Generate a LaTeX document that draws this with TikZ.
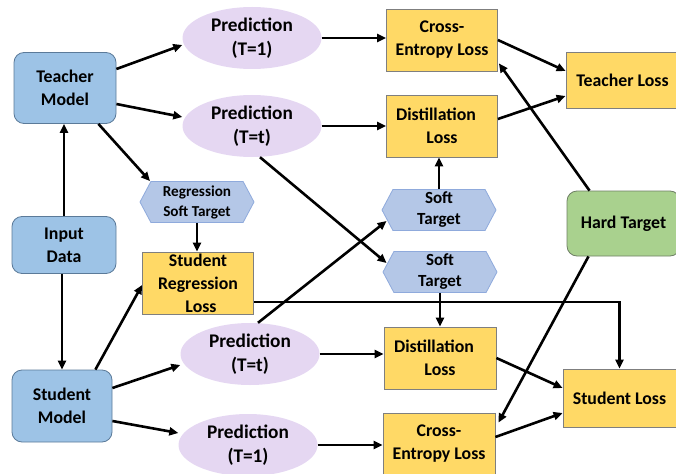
\documentclass[tikz,border=0pt]{standalone}
\usepackage{fontspec}
\setmainfont{Carlito}[BoldFont={Carlito Bold}]
\usetikzlibrary{arrows.meta,shapes.geometric,shapes.symbols}

\definecolor{modelblue}{HTML}{9DC3E6}
\definecolor{modeledge}{HTML}{5B7A99}
\definecolor{hexblue}{HTML}{B4C7E7}
\definecolor{hexedge}{HTML}{8FAADC}
\definecolor{predlav}{HTML}{E5D7F2}
\definecolor{lossyellow}{HTML}{FFD966}
\definecolor{lossedge}{HTML}{7F7F7F}
\definecolor{hardgreen}{HTML}{A9D18E}
\definecolor{hardedge}{HTML}{6E7F64}

\tikzset{
  txt/.style={font=\bfseries\fontsize{17.8}{23}\selectfont, align=center, inner sep=0pt},
  modelbox/.style={txt, draw=modeledge, line width=0.8pt, fill=modelblue,
    rounded corners=10pt, minimum width=#1},
  predell/.style={txt, ellipse, fill=predlav, minimum width=139pt, minimum height=62pt,
    font=\bfseries\fontsize{19.3}{23.5}\selectfont},
  hexnode/.style={txt, shape=signal, signal to=west and east, signal pointer angle=124,
    draw=hexedge, line width=0.8pt, fill=hexblue, minimum width=114pt, minimum height=41pt},
  lossbox/.style={txt, draw=lossedge, line width=0.8pt, fill=lossyellow,
    minimum width=112pt, minimum height=62pt},
  hardbox/.style={txt, draw=hardedge, line width=0.8pt, fill=hardgreen,
    rounded corners=10pt, minimum width=113pt, minimum height=65pt},
  conn/.style={line width=2.6pt, -{Triangle[length=9pt,width=8pt]}},
}

\begin{document}
\begin{tikzpicture}[x=1pt,y=-1pt]
\useasboundingbox (0,0) rectangle (676,473);

% models
\node[modelbox=102pt, minimum height=71pt] (tm) at (65,88) {Teacher\\Model};
\node[modelbox=104pt, minimum height=57pt] (in) at (64,245) {Input\\Data};
\node[modelbox=100pt, minimum height=72pt] (sm) at (62,406) {Student\\Model};

% predictions
\node[predell] (p1)  at (252,38)  {Prediction\\(T=1)};
\node[predell] (pt)  at (252,126) {Prediction\\(T=t)};
\node[predell] (pbt) at (250,354) {Prediction\\(T=t)};
\node[predell] (pb1) at (248,445) {Prediction\\(T=1)};

% soft targets
\node[hexnode, font=\bfseries\fontsize{15.2}{20}\selectfont] (rst) at (197,202) {Regression\\Soft Target};
\node[hexnode, font=\bfseries\fontsize{17}{21}\selectfont] (st1) at (439,210) {Soft\\Target};
\node[hexnode, font=\bfseries\fontsize{17}{21}\selectfont] (st2) at (440,272) {Soft\\Target};

% losses
\node[lossbox, minimum width=111pt] (srl) at (198,283) {Student\\Regression\\\hspace*{6pt}Loss};
\node[lossbox, minimum width=111pt] (ce1) at (442,40)  {Cross-\\Entropy Loss};
\node[lossbox, minimum width=111pt] (dl1) at (442,126) {Distillation\hspace*{12pt}\\Loss};
\node[lossbox] (dl2) at (440,358) {Distillation\hspace*{12pt}\\Loss};
\node[lossbox] (ce2) at (439,444) {Cross-\\Entropy Loss};
\node[lossbox, minimum width=113pt, minimum height=56pt] (tl) at (622.5,80) {Teacher Loss};
\node[lossbox, minimum width=113pt, minimum height=58pt] (sl) at (619.5,398) {Student Loss};
\node[hardbox] (ht) at (623.5,223.5) {Hard Target};

% teacher branch
\draw[conn] ([yshift=19pt]tm.east) -- ([yshift=-7pt]p1.west);
\draw[conn] ([yshift=-16pt]tm.east) -- ([yshift=9pt]pt.west);
\draw[conn] ([xshift=-18pt]tm.south east) -- ([xshift=-47pt]rst.north);
\draw[conn] (in.north) -- (in.north |- tm.south);
\draw[conn] (sm.north |- in.south) -- (sm.north);
\draw[conn] (p1.east) -- (p1.east -| ce1.west);
\draw[conn] (pt.east) -- (pt.east -| dl1.west);
\draw[conn] ([xshift=8pt]pt.south) -- ([xshift=4pt,yshift=9pt]st2.west);
\draw[conn] (st1.north) -- (st1.north |- dl1.south);
\draw[conn] (ce1.east) -- ([yshift=9pt]tl.west);
\draw[conn] ([yshift=7pt]dl1.east) -- ([yshift=-16pt]tl.west);
\draw[conn] ([xshift=-34pt]ht.north) -- ([xshift=1pt,yshift=8pt]ce1.south east);

% student branch
\draw[conn] (rst.south) -- (rst.south |- srl.north);
\draw[conn] ([xshift=-17pt]sm.north east) -- ([yshift=-2pt]srl.west);
\draw[conn] ([yshift=18pt]sm.east) -- ([yshift=-11pt]pbt.west);
\draw[conn] ([yshift=-15pt]sm.east) -- ([yshift=12pt]pb1.west);
\draw[conn] ([xshift=8pt]pbt.north) -- ([xshift=5pt,yshift=-11pt]st1.west);
\draw[conn] ([yshift=-19pt]srl.east) -| (sl.north);
\draw[conn] (st2.south) -- (st2.south |- dl2.north);
\draw[conn] (pbt.east) -- (pbt.east -| dl2.west);
\draw[conn] (pb1.east) -- (pb1.east -| ce2.west);
\draw[conn] ([xshift=-35pt]ht.south) -- ([xshift=3pt,yshift=-10pt]ce2.north east);
\draw[conn] (dl2.east) -- ([yshift=10pt]sl.west);
\draw[conn] ([yshift=7pt]ce2.east) -- ([yshift=-15pt]sl.west);
\end{tikzpicture}
\end{document}
